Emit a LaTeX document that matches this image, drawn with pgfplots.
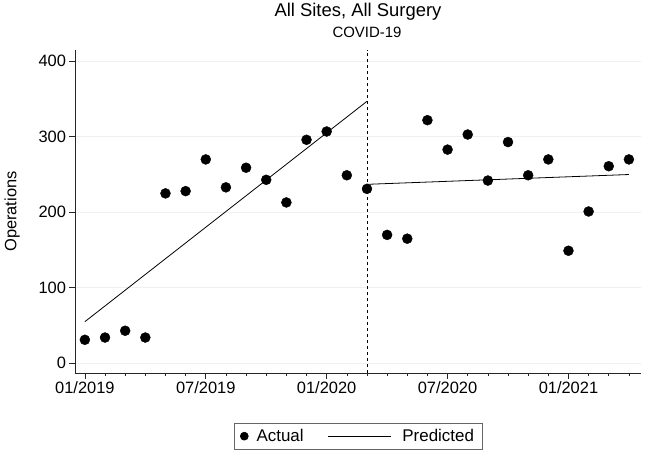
\documentclass[border=0pt]{standalone}
\usepackage{fontspec}
\setmainfont{Liberation Sans}
\usepackage{pgfplots}
\pgfplotsset{compat=1.18}
\begin{document}
\begin{tikzpicture}
\begin{axis}[
  scale only axis,
  width=566bp, height=323bp,
  xmin=-0.49, xmax=27.6,
  ymin=-13, ymax=415,
  axis x line*=bottom, axis y line*=left,
  axis line style={black!85, line width=0.7pt},
  xtick={0,6,12,18,24},
  xticklabels={01/2019,07/2019,01/2020,07/2020,01/2021},
  minor xtick={0,...,27},
  ytick={0,100,200,300,400},
  tick align=outside,
  major tick length=5.5bp,
  minor tick length=3bp,
  tick style={black!85, line width=0.6pt},
  ymajorgrids,
  major grid style={gray!12, line width=0.9pt},
  /pgf/number format/assume math mode=true,
  ticklabel style={font=\fontsize{16.5}{18}\selectfont},
  ylabel={Operations},
  ylabel style={font=\fontsize{16.5}{18}\selectfont, yshift=12bp},
  clip=false,
  legend columns=2,
  legend style={at={(axis description cs:0.5,0)}, anchor=north, yshift=-50bp,
    font=\fontsize{17}{19}\selectfont, draw=black!60, line width=0.6pt,
    inner xsep=6bp, inner ysep=4bp,
    /tikz/every even column/.append style={column sep=22bp}},
  legend cell align=left,
]
\addplot[only marks, mark=*, mark size=5bp, black,
  legend image code/.code={\fill[black] (4bp,0bp) circle (4bp);}] coordinates {
(0,31) (1,34) (2,43) (3,34) (4,225) (5,228) (6,270) (7,233) (8,259) (9,243)
(10,213) (11,296) (12,307) (13,249) (14,231) (15,170) (16,165) (17,322) (18,283)
(19,303) (20,242) (21,293) (22,249) (23,270) (24,149) (25,201) (26,261) (27,270)
};
\addlegendentry{\hspace{6bp}Actual}
\addplot[black, line width=0.8pt,
  legend image code/.code={\draw[black, line width=0.8pt] (0bp,0bp) -- (63bp,0bp);}] coordinates {(0,55) (14,347)};
\addlegendentry{\hspace{9bp}Predicted\hspace{3bp}}
\addplot[black, line width=0.8pt, forget plot] coordinates {(14,237) (27,250)};
\addplot[black, dashed, line width=0.8pt, forget plot] coordinates {(14,-13) (14,415)};
\node[font=\fontsize{15}{17}\selectfont, anchor=base] at (axis cs:14,415) [yshift=12bp] {COVID-19};
\node[font=\fontsize{18.5}{20}\selectfont, anchor=base] at (axis description cs:0.5,1) [yshift=33bp] {All Sites, All Surgery};
\end{axis}
\pgfresetboundingbox
\path (current axis.south west) ++(-75bp,-83bp) rectangle ++(645bp,456bp);
\end{tikzpicture}
\end{document}
